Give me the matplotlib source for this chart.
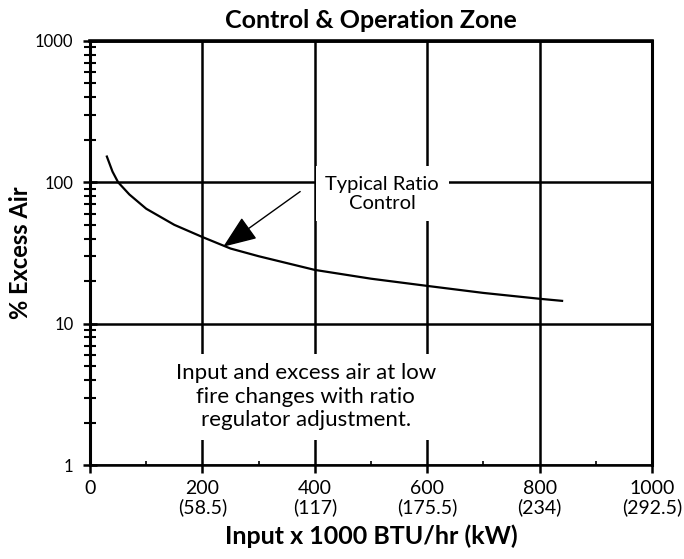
import numpy as np
import matplotlib.pyplot as plt
from matplotlib.ticker import FixedLocator, LogLocator, NullFormatter

plt.rcParams['font.family'] = ['Lato', 'DejaVu Sans']

# curve
input_kbtu = [30, 40, 50, 70, 100, 150, 200, 250, 300, 400, 500, 600, 700, 800, 840]
excess_air = [152, 119, 100, 82, 65, 50, 41, 34, 30, 24, 20.8, 18.5, 16.5, 15, 14.5]

x_ticks = [0, 200, 400, 600, 800, 1000]
x_tick_labels = ['0', '200\n(58.5)', '400\n(117)', '600\n(175.5)', '800\n(234)', '1000\n(292.5)']
y_ticks = [1, 10, 100, 1000]
y_tick_labels = ['1', '10', '100', '1000']

fig = plt.figure(figsize=(6.84, 5.59), dpi=100)
ax = fig.add_axes([0.1316, 0.168, 0.8216, 0.7589])

ax.set_yscale('log')
ax.set_xlim(0, 1000)
ax.set_ylim(1, 1000)

ax.plot(input_kbtu, excess_air, color='black', lw=1.6, zorder=3)

# grid: heavy black lines
ax.set_xticks(x_ticks)
ax.set_xticklabels(x_tick_labels, fontsize=14, linespacing=1.05)
ax.set_yticks(y_ticks)
ax.set_yticklabels(y_tick_labels, fontsize=12)
ax.xaxis.set_minor_locator(FixedLocator([100, 300, 500, 700, 900]))
ax.yaxis.set_minor_locator(LogLocator(base=10, subs=np.arange(2, 10)))
ax.yaxis.set_minor_formatter(NullFormatter())
ax.grid(True, which='major', color='black', lw=1.8, zorder=1)

ax.tick_params(axis='y', which='major', direction='inout', length=10, width=1.8, pad=7)
ax.tick_params(axis='y', which='minor', direction='inout', length=9, width=1.5)
ax.tick_params(axis='x', which='major', direction='out', length=6, width=1.8, pad=5)
ax.tick_params(axis='x', which='minor', direction='in', length=3, width=1.2)

for side, w in [('left', 2.2), ('bottom', 1.8), ('top', 2.6), ('right', 2.2)]:
    ax.spines[side].set_linewidth(w)

box = dict(facecolor='white', edgecolor='none', pad=7)
ax.text(520, 83, 'Typical Ratio\nControl', ha='center', va='center',
        fontsize=14.5, linespacing=1.15, bbox=box, zorder=4)
ax.text(384, 3.05, 'Input and excess air at low\nfire changes with ratio\nregulator adjustment.',
        ha='center', va='center', fontsize=16, linespacing=1.2, bbox=box, zorder=4)

ax.annotate('', xy=(237, 35), xytext=(374, 86),
            arrowprops=dict(arrowstyle='-|>,head_length=1.4,head_width=0.55',
                            color='black', lw=1.0, mutation_scale=15,
                            shrinkA=0, shrinkB=0), zorder=5)

ax.set_title('Control & Operation Zone', fontsize=18, fontweight='bold', pad=9)
ax.set_xlabel('Input x 1000 BTU/hr (kW)', fontsize=18, fontweight='bold', labelpad=6)
ax.set_ylabel('% Excess Air', fontsize=17, fontweight='bold', labelpad=2)

fig.savefig('out.png', dpi=100)
